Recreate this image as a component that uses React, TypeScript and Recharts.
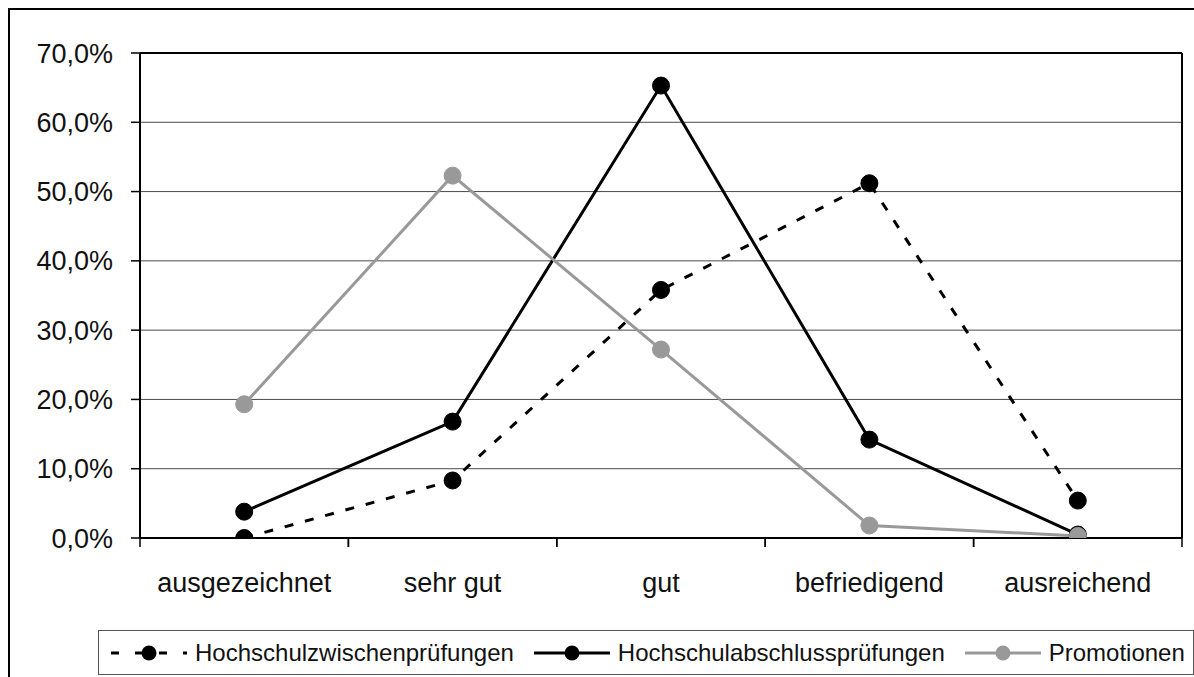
import React from "react";
import {
  CartesianGrid,
  Line,
  LineChart,
  ReferenceLine,
  XAxis,
  YAxis,
} from "recharts";

const grades = ["ausgezeichnet", "sehr gut", "gut", "befriedigend", "ausreichend"];
const zwischen = [0.0, 8.3, 35.8, 51.2, 5.4];
const abschluss = [3.8, 16.8, 65.3, 14.2, 0.5];
const promotionen = [19.3, 52.3, 27.2, 1.8, 0.3];
const yTicks = [0, 10, 20, 30, 40, 50, 60, 70];

const series = [
  { key: "zwischen", name: "Hochschulzwischenprüfungen", color: "#000", dash: "9 12", axis: "left" },
  { key: "abschluss", name: "Hochschulabschlussprüfungen", color: "#000", dash: undefined, axis: "left" },
  { key: "promotionen", name: "Promotionen", color: "#999", dash: undefined, axis: "right" },
];

const data = grades.map((g, i) => ({
  grade: g,
  zwischen: zwischen[i],
  abschluss: abschluss[i],
  promotionen: promotionen[i],
}));

const PAGE_W = 1194;
const PAGE_H = 677;
const PAD = 8;
const W = PAGE_W - PAD;
const H = PAGE_H - PAD;
const M = { top: 45, right: 11, bottom: 79, left: 0 };
const Y_W = 132;
const R_W = 1;
const X_H = 60;
const PLOT_W = W - M.left - M.right - Y_W - R_W;
const PLOT_H = H - M.top - M.bottom - X_H;
const HALF = PLOT_W / grades.length / 2;
const TICK = 9;
const FONT = '"Liberation Sans", Arial, sans-serif';

const pct = (v: number) => `${v.toFixed(1).replace(".", ",")}%`;

// category labels centred, tick marks on the category boundaries (Excel style)
const GradeTick = (props: any) => {
  const { x, y, payload } = props;
  const axisY = y - TICK;
  return (
    <g>
      <line x1={x - HALF} x2={x - HALF} y1={axisY} y2={axisY + TICK} stroke="#000" strokeWidth={1.5} />
      <line x1={x + HALF} x2={x + HALF} y1={axisY} y2={axisY + TICK} stroke="#000" strokeWidth={1.5} />
      <text x={x} y={axisY + 54} textAnchor="middle" fontSize={27} fill="#111" fontFamily={FONT}>
        {payload.value}
      </text>
    </g>
  );
};

const LegendBox = () => (
  <div
    style={{
      position: "absolute",
      left: 90,
      top: 622,
      boxSizing: "border-box",
      width: 1096,
      height: 45,
      border: "1.5px solid #555",
      background: "#fff",
      display: "flex",
      alignItems: "center",
      paddingLeft: 12,
      fontFamily: FONT,
      fontSize: 24,
      color: "#111",
      whiteSpace: "nowrap",
    }}
  >
    {series.map((s, i) => (
      <div key={s.key} style={{ display: "flex", alignItems: "center", marginRight: i < series.length - 1 ? 20 : 0 }}>
        <svg width={76} height={20} style={{ marginRight: 8 }}>
          <line
            x1={0}
            x2={76}
            y1={10}
            y2={10}
            stroke={s.color}
            strokeWidth={3}
            strokeDasharray={s.dash ? "8 16" : undefined}
          />
          <circle cx={38} cy={10} r={7.5} fill={s.color} />
        </svg>
        <span>{s.name}</span>
      </div>
    ))}
  </div>
);

export default function App() {
  return (
    <div style={{ width: PAGE_W, height: PAGE_H, boxSizing: "border-box", padding: `${PAD}px 0 0 ${PAD}px`, overflow: "hidden" }}>
      {/* the frame runs to the window edge, so drop the default body margin */}
      <style>{"html,body{margin:0;padding:0;overflow:hidden}"}</style>
      <div style={{ position: "relative", width: W, height: H, fontFamily: FONT }}>
        <LineChart width={W} height={H} data={data} margin={M}>
          <CartesianGrid yAxisId="left" horizontal vertical={false} stroke="#4a4a4a" strokeWidth={1} />
          <XAxis
            dataKey="grade"
            interval={0}
            padding={{ left: HALF, right: HALF }}
            axisLine={{ stroke: "#000", strokeWidth: 2 }}
            tickLine={false}
            tickSize={TICK}
            tickMargin={0}
            height={X_H}
            tick={<GradeTick />}
          />
          <YAxis
            yAxisId="left"
            domain={[0, 70]}
            ticks={yTicks}
            tickFormatter={pct}
            width={Y_W}
            axisLine={{ stroke: "#000", strokeWidth: 2 }}
            tickLine={{ stroke: "#000", strokeWidth: 1.5 }}
            tickSize={TICK}
            tickMargin={18}
            tick={{ fill: "#111", fontSize: 27, fontFamily: FONT }}
            allowDataOverflow
          />
          {/* same scale as the left axis; only its line is drawn, as the right frame of the plot */}
          <YAxis
            yAxisId="right"
            orientation="right"
            domain={[0, 70]}
            ticks={yTicks}
            allowDataOverflow
            width={R_W}
            tick={false}
            tickLine={false}
            axisLine={{ stroke: "#000", strokeWidth: 2 }}
          />
          <ReferenceLine yAxisId="left" y={70} stroke="#000" strokeWidth={2} />
          {series.map((s) => (
            <Line
              key={s.key}
              yAxisId={s.axis}
              type="linear"
              dataKey={s.key}
              name={s.name}
              stroke={s.color}
              strokeWidth={3}
              strokeDasharray={s.dash}
              dot={{ r: 8.5, fill: s.color, stroke: s.color, strokeWidth: 1, strokeDasharray: "0" }}
              activeDot={false}
              isAnimationActive={false}
            />
          ))}
        </LineChart>
        <LegendBox />
        <div
          style={{
            position: "absolute",
            left: 0,
            top: 0,
            width: W,
            height: H,
            boxSizing: "border-box",
            borderTop: "2px solid #000",
            borderLeft: "2px solid #000",
            pointerEvents: "none",
          }}
        />
      </div>
    </div>
  );
}
